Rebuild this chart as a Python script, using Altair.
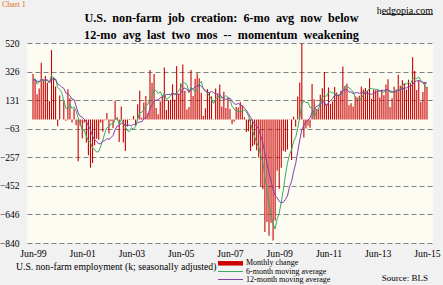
import altair as alt
import pandas as pd

# ---------------- data ----------------
# months before the first plotted bar (Jul-98 .. May-99), only used for the moving averages
pre_values = [240, 290, 230, 220, 300, 330, 200, 400, 110, 360, 220]

# monthly change in U.S. non-farm payrolls, Jun-99 .. Jun-15 (thousands)
chg_1999 = [310, 270, 172, 210, 385, 267, 295]
chg_2000 = [249, 125, 472, 286, 225, -46, 163, 0, 125, -9, 206, 144]
chg_2001 = [-21, 71, -40, -284, -44, -129, -23, -156, -243, -329, -296, -175]
chg_2002 = [-131, -138, -20, -83, -6, 44, -95, -12, -59, 127, 15, -154]
chg_2003 = [89, -157, -214, -47, -4, -2, 24, -41, 104, 196, 12, 115]
chg_2004 = [159, 43, 337, 250, 310, 78, 36, 122, 160, 353, 64, 130]
chg_2005 = [134, 239, 134, 363, 175, 245, 373, 196, 67, 84, 337, 159]
chg_2006 = [277, 315, 280, 182, 23, 77, 207, 184, 157, 2, 210, 171]
chg_2007 = [238, 88, 188, 78, 144, 71, -33, -16, 85, 82, 118, 97]
chg_2008 = [15, -86, -80, -214, -182, -172, -210, -259, -452, -474, -765, -697]
chg_2009 = [-791, -703, -823, -687, -349, -471, -329, -213, -220, -204, -2, -275]
chg_2010 = [18, -50, 156, 251, 516, -122, -61, -42, -57, 241, 137, 71]
chg_2011 = [70, 168, 212, 322, 102, 217, 106, 122, 221, 183, 164, 196]
chg_2012 = [360, 226, 243, 96, 110, 88, 160, 150, 161, 225, 203, 214]
chg_2013 = [197, 280, 141, 203, 199, 201, 149, 202, 164, 237, 274, 84]
chg_2014 = [144, 222, 203, 304, 229, 267, 243, 203, 271, 243, 423, 329]
chg_2015 = [201, 266, 119, 187, 254, 223]

x_tick_labels = ["Jun-99", "Jun-01", "Jun-03", "Jun-05", "Jun-07",
                 "Jun-09", "Jun-11", "Jun-13", "Jun-15"]
y_tick_values = [-840, -646, -452, -257, -63, 131, 326, 520]
legend_labels = ["Monthly change", "6-month moving average", "12-month moving average"]
legend_colors = ["#cc0000", "#3aaa64", "#8040a8"]

NB = "\u00a0 "  # wide word gap as in the original title
title_words_1 = ["U.S.", "non-farm", "job", "creation:", "6-mo", "avg", "now", "below"]
title_words_2 = ["12-mo", "avg", "last", "two", "mos", "--", "momentum", "weakening"]
axis_note = "U.S. non-farm employment (k; seasonally adjusted)"
source_note = "Source: BLS"
chart_tag = "Chart 1"
site_tag = "hedgopia.com"

# ---------------- build table ----------------
monthly_change = (chg_1999 + chg_2000 + chg_2001 + chg_2002 + chg_2003 + chg_2004 +
                  chg_2005 + chg_2006 + chg_2007 + chg_2008 + chg_2009 + chg_2010 +
                  chg_2011 + chg_2012 + chg_2013 + chg_2014 + chg_2015)
n = len(monthly_change)
s = pd.Series(pre_values + monthly_change, dtype=float)
ma6 = s.rolling(6).mean().iloc[len(pre_values):].to_numpy()
ma12 = s.rolling(12).mean().iloc[len(pre_values):].to_numpy()
df = pd.DataFrame({"i": list(range(n)), "change": monthly_change, "ma6": ma6, "ma12": ma12})

label_array = "[" + ",".join("'" + t + "'" for t in x_tick_labels) + "]"
x_scale = alt.Scale(domain=[-0.5, n - 0.5], nice=False, zero=False)
x_axis = alt.Axis(values=[24 * k for k in range(len(x_tick_labels))],
                  labelExpr=label_array + "[round(datum.value/24)]",
                  grid=False, domain=False, ticks=False, labelPadding=5,
                  labelFont="Liberation Serif", labelFontSize=9.7,
                  labelColor="#000000", labelOverlap=False, labelBound=False,
                  labelFlush=False, title=None)
y_scale = alt.Scale(domain=[-840, 520], nice=False, zero=False)
y_axis = alt.Axis(values=y_tick_values, format="d", grid=True, gridDash=[5, 3],
                  gridColor="#808080", gridWidth=1, domain=False, ticks=False,
                  labelPadding=8, labelFont="Liberation Serif", labelFontSize=9.5,
                  labelColor="#000000", labelOverlap=False, labelBound=False,
                  labelFlush=False, title=None)

def xe():
    return alt.X("i:Q", scale=x_scale, axis=x_axis)

def ye(field):
    return alt.Y(field + ":Q", scale=y_scale, axis=y_axis)

base = alt.Chart(df)
bars = base.mark_bar(size=1.1, color=legend_colors[0]).encode(x=xe(), y=ye("change"))
line6 = base.mark_line(color=legend_colors[1], strokeWidth=1).encode(x=xe(), y=ye("ma6"))
line12 = base.mark_line(color=legend_colors[2], strokeWidth=1).encode(x=xe(), y=ye("ma12"))

def txt(t, x, y, size, align="left", weight="normal", color="#000000", font="Liberation Serif"):
    return alt.Chart(pd.DataFrame({"t": [t]})).mark_text(
        align=align, baseline="middle", fontSize=size, fontWeight=weight,
        color=color, font=font).encode(text="t:N", x=alt.value(x), y=alt.value(y))

layers = [bars, line6, line12]
layers.append(txt(chart_tag, -25, -38, 8, color="#e07020"))
layers.append(txt(site_tag, 406, -32, 10, align="right"))
layers.append(alt.Chart(pd.DataFrame({"a": [0]})).mark_rule(color="#000000", strokeWidth=0.8).encode(
    x=alt.value(355), x2=alt.value(406), y=alt.value(-28.5)))
layers.append(txt(NB.join(title_words_1), 194.5, -25, 12.2, align="center", weight="bold"))
layers.append(txt(NB.join(title_words_2), 194.5, -8.5, 12.2, align="center", weight="bold"))
layers.append(txt(axis_note, -11, 224, 9.7))
layers.append(txt(source_note, 401, 234.5, 9, align="right"))

leg_y = [220.3, 228.5, 236.5]
leg_w = [4.5, 1, 1]
for k in range(3):
    layers.append(alt.Chart(pd.DataFrame({"a": [k]})).mark_rule(
        color=legend_colors[k], strokeWidth=leg_w[k]).encode(
        x=alt.value(191), x2=alt.value(216), y=alt.value(leg_y[k])))
    layers.append(txt(legend_labels[k], 219, leg_y[k], 8))

chart = alt.layer(*layers).properties(
    width=406, height=200,
    padding={"left": 27, "top": 43, "right": 10, "bottom": 42},
    autosize=alt.AutoSizeParams(type="none"),
    background="#f1f1f1",
).configure_view(fill="#fcfcf3", stroke=None)

chart.save("out.html", embed_options={"renderer": "svg", "actions": False})
